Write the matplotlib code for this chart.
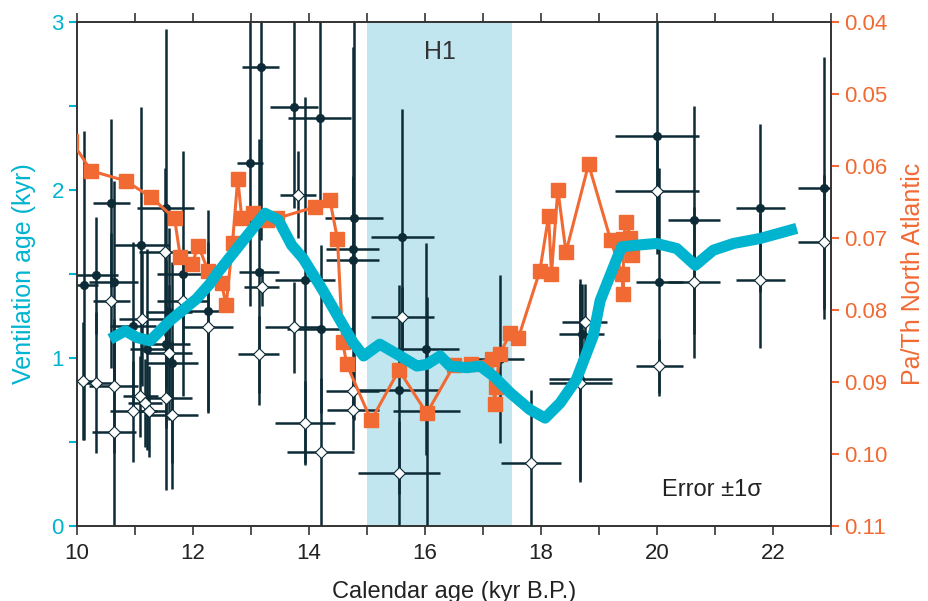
import matplotlib.pyplot as plt
import numpy as np

plt.rcParams['font.family'] = ['Liberation Sans', 'DejaVu Sans']

# benthic-planktic ventilation ages (filled) : age, vent age, x err, y err
bp_age = [10.12, 10.33, 10.59, 10.63, 10.96, 11.11, 11.21, 11.53, 11.54, 11.58, 11.64,
          11.83, 12.25, 12.98, 13.17, 13.14, 13.74, 13.93, 14.18, 14.20, 14.77, 14.75,
          14.75, 15.61, 16.01, 16.03, 15.55, 17.30, 18.68, 18.70, 20.00, 20.04, 20.64,
          21.78, 22.88]
bp_vent = [1.43, 1.49, 1.92, 1.45, 1.19, 1.67, 1.05, 1.89, 1.08, 1.27, 0.97,
           1.50, 1.28, 2.16, 2.73, 1.51, 2.49, 1.46, 2.43, 1.17, 1.83, 1.65,
           1.58, 1.72, 1.05, 0.68, 0.81, 0.99, 0.87, 1.14, 2.32, 1.45, 1.82,
           1.89, 2.01]
bp_xerr = [0.24, 0.38, 0.32, 0.42, 0.40, 0.47, 0.30, 0.49, 0.40, 0.40, 0.45,
           0.45, 0.43, 0.22, 0.32, 0.35, 0.41, 0.52, 0.54, 0.58, 0.50, 0.45,
           0.45, 0.54, 0.58, 0.58, 0.70, 0.40, 0.55, 0.39, 0.72, 0.40, 0.45,
           0.42, 0.45]
bp_yerr = [0.92, 0.35, 0.50, 0.60, 0.50, 0.82, 0.60, 1.07, 0.50, 0.50, 0.60,
           0.73, 0.60, 0.85, 1.03, 0.79, 0.60, 1.09, 0.57, 0.50, 1.20, 1.20,
           0.50, 0.76, 0.63, 0.68, 0.62, 0.50, 0.60, 0.30, 0.70, 0.68, 0.68,
           0.50, 0.78]

# open diamonds
ba_age = [10.11, 10.33, 10.59, 10.63, 10.64, 10.97, 11.09, 11.12, 11.17, 11.24, 11.52,
          11.53, 11.58, 11.64, 11.83, 12.25, 13.13, 13.18, 13.74, 13.81, 13.93, 14.20,
          14.75, 14.76, 15.61, 15.55, 17.83, 18.75, 18.68, 20.00, 20.04, 20.64, 21.78,
          22.88]
ba_vent = [0.86, 0.85, 1.34, 0.83, 0.56, 0.68, 0.77, 1.23, 0.73, 0.68, 1.63,
           0.76, 1.03, 0.66, 1.34, 1.18, 1.02, 1.42, 1.18, 1.97, 0.61, 0.44,
           0.80, 0.69, 1.24, 0.31, 0.37, 1.21, 0.85, 1.99, 0.95, 1.45, 1.46,
           1.69]
ba_xerr = [0.20, 0.30, 0.32, 0.42, 0.38, 0.40, 0.30, 0.40, 0.30, 0.30, 0.45,
           0.45, 0.40, 0.45, 0.45, 0.43, 0.35, 0.30, 0.50, 0.31, 0.52, 0.58,
           0.45, 0.45, 0.54, 0.70, 0.52, 0.39, 0.55, 0.72, 0.40, 0.45, 0.42,
           0.45]
ba_yerr = [0.35, 0.42, 0.40, 0.40, 0.56, 0.30, 0.24, 0.40, 0.26, 0.27, 0.50,
           0.55, 0.40, 0.44, 0.25, 0.51, 0.23, 0.11, 0.27, 0.26, 0.25, 0.44,
           0.16, 0.05, 0.18, 0.31, 0.44, 0.23, 0.59, 0.30, 0.16, 0.45, 0.40,
           0.40]

# Pa/Th North Atlantic
pa_age = [9.90, 10.24, 10.84, 11.28, 11.68, 11.78, 11.98, 12.09, 12.26, 12.49, 12.57,
          12.68, 12.77, 12.84, 13.04, 13.27, 13.45, 14.11, 14.36, 14.49, 14.58, 14.65,
          15.07, 15.55, 16.03, 16.50, 16.79, 17.15, 17.20, 17.22, 17.29, 17.47, 17.61,
          17.98, 18.13, 18.18, 18.29, 18.43, 18.82, 19.20, 19.39, 19.42, 19.42, 19.47,
          19.54, 19.56]
pa_th = [0.0565, 0.0607, 0.0621, 0.0644, 0.0673, 0.0727, 0.0737, 0.0711, 0.0746, 0.0763, 0.0794,
         0.0707, 0.0618, 0.0673, 0.0666, 0.0676, 0.0673, 0.0657, 0.0648, 0.0702, 0.0845, 0.0876,
         0.0954, 0.0884, 0.0944, 0.0877, 0.0875, 0.0869, 0.0931, 0.0907, 0.0861, 0.0833, 0.0839,
         0.0746, 0.0670, 0.0750, 0.0633, 0.0720, 0.0598, 0.0703, 0.0750, 0.0778, 0.0702, 0.0678,
         0.0700, 0.0724]

# smoothed ventilation age
sm_age = [10.57, 10.83, 11.03, 11.26, 11.60, 12.06, 12.29, 12.41, 12.87, 13.24, 13.47,
          13.70, 13.90, 14.24, 14.59, 14.76, 14.94, 15.22, 15.57, 15.86, 16.03, 16.26,
          16.43, 16.72, 16.95, 17.18, 17.47, 17.81, 18.07, 18.33, 18.61, 18.90, 19.02,
          19.25, 19.39, 19.65, 19.99, 20.34, 20.66, 20.97, 21.32, 21.78, 22.41]
sm_vent = [1.11, 1.16, 1.12, 1.10, 1.22, 1.35, 1.44, 1.50, 1.70, 1.86, 1.82,
           1.67, 1.59, 1.40, 1.19, 1.09, 1.01, 1.08, 1.01, 0.95, 0.96, 1.01,
           0.95, 0.94, 0.95, 0.89, 0.79, 0.69, 0.64, 0.73, 0.87, 1.13, 1.34,
           1.54, 1.66, 1.67, 1.68, 1.65, 1.55, 1.64, 1.68, 1.71, 1.77]

cyan = '#00b4cf'
orange = '#f26a33'
dark = '#0c2b36'
grey = '#333333'

fig = plt.figure(figsize=(9.29, 6.01), dpi=100)
ax = fig.add_axes([0.083, 0.1256, 0.8115, 0.838])
ax2 = ax.twinx()

ax.axvspan(15.0, 17.5, color='#c1e6ef', lw=0, zorder=0)

ax.errorbar(bp_age, bp_vent, xerr=bp_xerr, yerr=bp_yerr, fmt='o', color=dark,
            ms=5.5, elinewidth=1.8, capsize=0, zorder=2)
ax.errorbar(ba_age, ba_vent, xerr=ba_xerr, yerr=ba_yerr, fmt='D', color=dark,
            mfc='white', mec=dark, mew=0.8, ms=6.5, elinewidth=1.8, capsize=0, zorder=3)

ax2.plot(pa_age, pa_th, '-s', color=orange, lw=2.2, ms=10.5, zorder=4)
ax2.plot(sm_age, sm_vent, color=cyan, lw=8, solid_capstyle='butt',
         solid_joinstyle='round', transform=ax.transData, zorder=5)

ax.set_xlim(10, 23)
ax.set_ylim(0, 3)
ax2.set_ylim(0.11, 0.04)

ax.set_xticks(range(10, 24, 2))
ax.set_xticks(range(10, 24), minor=True)
ax.set_yticks([0, 1, 2, 3])
ax.set_yticks(np.arange(0, 3.01, 0.5), minor=True)
ax2.set_yticks([0.04, 0.05, 0.06, 0.07, 0.08, 0.09, 0.10, 0.11])
ax2.set_yticklabels(['0.04', '0.05', '0.06', '0.07', '0.08', '0.09', '0.10', '0.11'])

ax.tick_params(axis='x', which='both', direction='out', length=6.5, width=1.2,
               color=grey, labelcolor='#222222', labelsize=16, top=True, pad=6)
ax.tick_params(axis='y', which='both', direction='out', length=6, width=1.5,
               color=cyan, labelcolor=cyan, labelsize=16)
ax2.tick_params(axis='y', direction='out', length=6, width=1.5,
                color=orange, labelcolor=orange, labelsize=16)

for a in (ax, ax2):
    for s in a.spines.values():
        s.set_color(grey)
        s.set_linewidth(1.2)

ax.set_xlabel('Calendar age (kyr B.P.)', fontsize=17, color='#222222', labelpad=12)
ax.set_ylabel('Ventilation age (kyr)', fontsize=18, color=cyan, labelpad=11)
ax2.set_ylabel('Pa/Th North Atlantic', fontsize=18, color=orange, labelpad=10)

ax.text(16.25, 2.82, 'H1', fontsize=18, color='#333333', ha='center', va='center')
ax.text(20.95, 0.21, 'Error ±1σ', fontsize=17, color='#222222', ha='center', va='center')

fig.savefig('out.png', dpi=100)
